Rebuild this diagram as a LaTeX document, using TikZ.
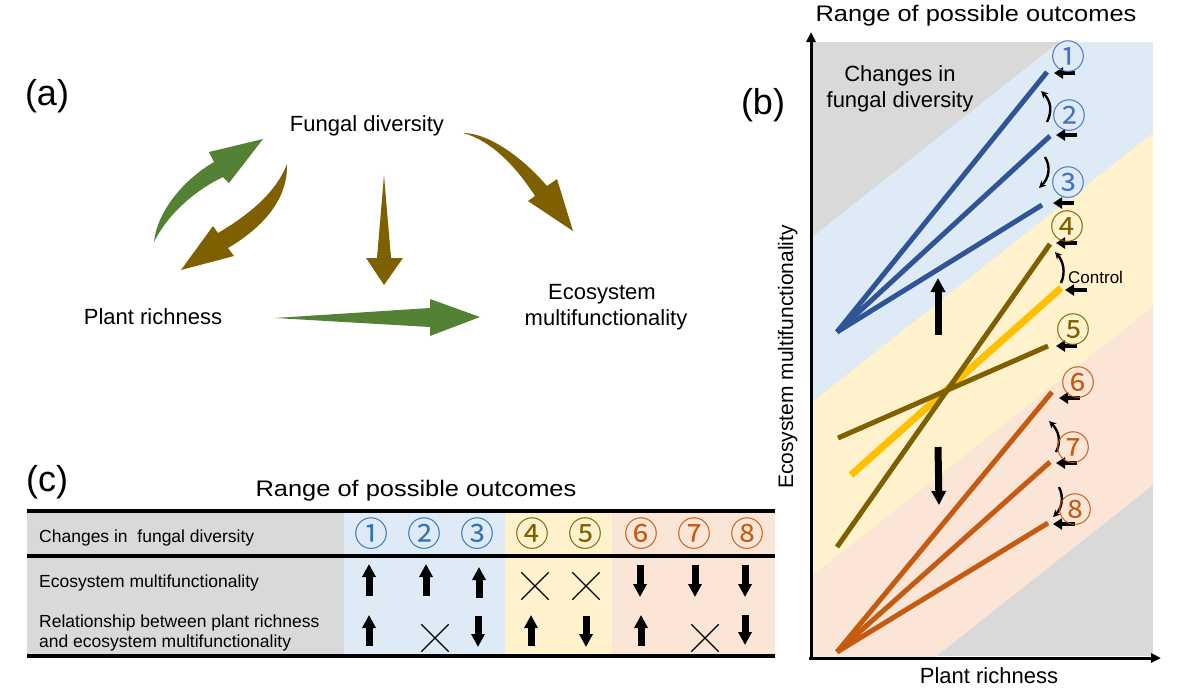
\documentclass[tikz,border=0pt]{standalone}
\usepackage{fontspec}
\usepackage{graphicx}
\setmainfont{Liberation Sans}
\newfontfamily\circfont{Noto Sans CJK JP}
\usetikzlibrary{arrows.meta,shapes.misc}
\newcommand\fsz[2]{\fontsize{#1}{#2}\selectfont}
\definecolor{cgreen}{HTML}{548235}
\definecolor{cbrown}{HTML}{7F6000}
\definecolor{cblue}{HTML}{2F5597}
\definecolor{cbluec}{HTML}{4472C4}
\definecolor{cbluet}{HTML}{2E75B6}
\definecolor{corange}{HTML}{C55A11}
\definecolor{cgold}{HTML}{FFC000}
\definecolor{bgray}{HTML}{D9D9D9}
\definecolor{bblue}{HTML}{DEEBF7}
\definecolor{byellow}{HTML}{FFF2CC}
\definecolor{bpeach}{HTML}{FBE5D6}
\begin{document}
\begin{tikzpicture}[x=1pt,y=-1pt,
  lbl/.style={inner sep=0pt,font=\fsz{22}{26}},
  tbl/.style={inner sep=0pt,font=\fsz{17.5}{20},anchor=base west},
  plab/.style={inner sep=0pt,font=\fsz{36}{40}},
  circ/.style={inner sep=0pt,font=\circfont\fsz{34}{34}},
  pointer/.style={line width=4.5pt,-{Triangle[length=9pt,width=11pt]}},
  bendarr/.style={line width=2.4pt,-{Stealth[length=7pt,width=7pt]}},
  bigarr/.style={line width=7pt,-{Triangle[length=14pt,width=14pt]}},
  tabarr/.style={line width=7pt,-{Triangle[length=13pt,width=13pt]}},
  axisline/.style={line width=3pt,-{Triangle[length=10pt,width=9pt]}},
  xm/.style={draw,cross out,minimum size=26pt,inner sep=0pt,line width=1.3pt},
  plotline/.style={line width=5pt}]
\useasboundingbox (0,0) rectangle (1189,694);

% ---------------- panel (a)
\node[plab] (la) at (47,96) {(a)};
\node[lbl,anchor=base] (fd) at (367,131) {Fungal diversity};
\node[lbl,anchor=base] (pr) at (153,324) {Plant richness};
\node[lbl,anchor=base] (em1) at (602,299) {Ecosystem};
\node[lbl,anchor=base] (em2) at (606,325) {multifunctionality};

\fill[cgreen] (154,242) .. controls (157,212) and (183,180) .. (214,162) -- (209,152) -- (263,139) -- (229,183) -- (223,177) .. controls (200,188) and (170,210) .. (154,242) -- cycle;
\fill[cbrown] (287,164) .. controls (288,192) and (272,222) .. (228,248) -- (234,256) -- (181,270) -- (213,226) -- (218,233) .. controls (245,217) and (275,195) .. (287,164) -- cycle;
\fill[cbrown] (463,133) .. controls (490,133) and (525,160) .. (547,186) -- (557,179) -- (573,231) -- (528,201) -- (535,196) .. controls (515,165) and (490,140) .. (463,133) -- cycle;
\fill[cbrown] (384,175) -- (391,258) -- (403,258) -- (384,285) -- (366,258) -- (377,258) -- cycle;
\fill[cgreen] (275,318) -- (430,308) -- (430,299) -- (480,317) -- (430,336) -- (430,327) -- cycle;

% ---------------- panel (b)
\node[plab] (lb) at (763,105) {(b)};
\node[inner sep=0pt,font=\fsz{22.5}{26},anchor=base] (tb) at (976,21) {\scalebox{1.13}[1]{Range of possible outcomes}};

\fill[bgray] (811,42) rectangle (1153,656);
\begin{scope}
\clip (811,42) rectangle (1153,656);
\fill[bblue] (811,238) -- (1153,-32) -- (1153,133) -- (811,403) -- cycle;
\fill[byellow] (811,403) -- (1153,133) -- (1153,307) -- (811,577) -- cycle;
\fill[bpeach] (811,577) -- (1153,307) -- (1153,485) -- (811,755) -- cycle;
\end{scope}

\coordinate (yb) at (811,659); \coordinate (yt) at (811,32);
\coordinate (xb) at (809,658); \coordinate (xt) at (1161,658);
\draw[axisline] (yb) -- (yt);
\draw[axisline] (xb) -- (xt);

\node[inner sep=0pt,font=\fsz{21}{24},rotate=90,anchor=base] (yl) at (793,357) {Ecosystem multifunctionality};
\node[lbl,anchor=base] (xl) at (989,683) {Plant richness};
\node[lbl,anchor=base] (cf1) at (900,81) {Changes in};
\node[lbl,anchor=base] (cf2) at (900,107) {fungal diversity};

% lines
\coordinate (o1) at (837,332);
\coordinate (e1) at (1047,72);
\coordinate (e2) at (1050,136);
\coordinate (e3) at (1042,205);
\draw[plotline,cblue] (o1) -- (e1);
\draw[plotline,cblue] (o1) -- (e2);
\draw[plotline,cblue] (o1) -- (e3);
\coordinate (cs) at (851,475); \coordinate (ce) at (1061,288);
\draw[line width=7pt,cgold] (cs) -- (ce);
\coordinate (s4) at (837,547); \coordinate (e4) at (1050,244);
\coordinate (s5) at (838,438); \coordinate (e5) at (1048,346);
\draw[plotline,cbrown] (s4) -- (e4);
\draw[plotline,cbrown] (s5) -- (e5);
\coordinate (o3) at (837,652);
\coordinate (e6) at (1052,392);
\coordinate (e7) at (1050,462);
\coordinate (e8) at (1048,523);
\draw[plotline,corange] (o3) -- (e6);
\draw[plotline,corange] (o3) -- (e7);
\draw[plotline,corange] (o3) -- (e8);

% pointers
\coordinate (p1a) at (1075,73);  \coordinate (p1b) at (1054,73);
\coordinate (p2a) at (1077,135); \coordinate (p2b) at (1056,135);
\coordinate (p3a) at (1074,203); \coordinate (p3b) at (1053,203);
\coordinate (p4a) at (1077,243); \coordinate (p4b) at (1056,243);
\coordinate (pca) at (1087,290); \coordinate (pcb) at (1065,290);
\coordinate (p5a) at (1077,346); \coordinate (p5b) at (1056,346);
\coordinate (p6a) at (1080,398); \coordinate (p6b) at (1059,398);
\coordinate (p7a) at (1077,463); \coordinate (p7b) at (1056,463);
\coordinate (p8a) at (1075,524); \coordinate (p8b) at (1053,524);
\foreach \n in {1,2,3,4,c,5,6,7,8} {\draw[pointer] (p\n a) -- (p\n b);}

% bend arrows
\draw[bendarr] (1047,122) .. controls (1053,110) and (1050,100) .. (1041,91);
\draw[bendarr] (1045,157) .. controls (1051,167) and (1049,178) .. (1039,188);
\draw[bendarr] (1061,283) .. controls (1066,272) and (1063,261) .. (1055,252);
\draw[bendarr] (1056,452) .. controls (1062,441) and (1058,430) .. (1049,421);
\draw[bendarr] (1059,487) .. controls (1064,497) and (1062,508) .. (1053,517);

\node[inner sep=0pt,font=\fsz{17}{20},anchor=base west] (ctl) at (1068,283) {Control};

% big arrows
\coordinate (bua) at (938,335); \coordinate (bub) at (938,278);
\coordinate (bda) at (938,447); \coordinate (bdb) at (939,505);
\draw[bigarr] (bua) -- (bub);
\draw[bigarr] (bda) -- (bdb);

% circled numbers (b)
\node[circ,text=cbluec] (c1) at (1068,57) {①};
\node[circ,text=cbluec] (c2) at (1069,116) {②};
\node[circ,text=cbluec] (c3) at (1068,183) {③};
\node[circ,text=cbrown] (c4) at (1067,227) {④};
\node[circ,text=cbrown] (c5) at (1073,330) {⑤};
\node[circ,text=corange] (c6) at (1078,383) {⑥};
\node[circ,text=corange] (c7) at (1073,448) {⑦};
\node[circ,text=corange] (c8) at (1075,510) {⑧};

% ---------------- panel (c)
\node[plab] (lc) at (47,482) {(c)};
\node[inner sep=0pt,font=\fsz{22.5}{26},anchor=base] (tc) at (416,496) {\scalebox{1.13}[1]{Range of possible outcomes}};

\fill[bgray] (27,511) rectangle (344,656);
\fill[bblue] (344,511) rectangle (505,656);
\fill[byellow] (505,511) rectangle (612,656);
\fill[bpeach] (612,511) rectangle (775,656);
\draw[line width=3.5pt] (27,511) -- (775,511);
\draw[line width=3.5pt] (27,556) -- (775,556);
\draw[line width=3.5pt] (27,656) -- (775,656);

\node[tbl] (r1) at (39,542) {Changes in\ \ fungal diversity};
\node[tbl] (r2) at (39,587) {Ecosystem multifunctionality};
\node[tbl] (r3a) at (39,627) {Relationship between plant richness};
\node[tbl] (r3b) at (39,647) {and ecosystem multifunctionality};

\node[circ,text=cbluet] (t1) at (371,534) {①};
\node[circ,text=cbluet] (t2) at (424,534) {②};
\node[circ,text=cbluet] (t3) at (477,534) {③};
\node[circ,text=cbrown] (t4) at (532,534) {④};
\node[circ,text=cbrown] (t5) at (585,534) {⑤};
\node[circ,text=corange] (t6) at (641,534) {⑥};
\node[circ,text=corange] (t7) at (694,534) {⑦};
\node[circ,text=corange] (t8) at (747,534) {⑧};

% row 2
\draw[tabarr] (369,596) -- (369,564);
\draw[tabarr] (426,596) -- (426,564);
\draw[tabarr] (479,598) -- (479,567);
\node[xm] (x24) at (535,586) {};
\node[xm] (x25) at (586,586) {};
\draw[tabarr] (640,565) -- (640,597);
\draw[tabarr] (695,565) -- (695,597);
\draw[tabarr] (745,565) -- (745,597);
% row 3
\draw[tabarr] (369,646) -- (369,615);
\node[xm] (x32) at (435,638) {};
\draw[tabarr] (478,616) -- (478,647);
\draw[tabarr] (531,646) -- (531,615);
\draw[tabarr] (586,616) -- (586,647);
\draw[tabarr] (641,646) -- (641,615);
\node[xm] (x37) at (705,638) {};
\draw[tabarr] (745,615) -- (745,645);
\end{tikzpicture}
\end{document}
